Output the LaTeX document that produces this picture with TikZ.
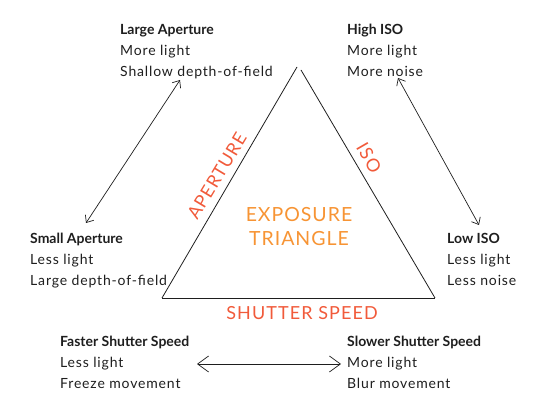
\documentclass[tikz,border=0pt]{standalone}
\usepackage{fontspec}
\setmainfont{Lato}
\newfontfamily\infofont{Lato}[LetterSpace=6]
\newfontfamily\redfont{Lato}[LetterSpace=6]
\newfontfamily\titlefont{Lato}[LetterSpace=5]
\usetikzlibrary{arrows.meta}
\definecolor{lblred}{RGB}{241,90,58}
\definecolor{expo}{RGB}{247,148,52}
\definecolor{ink}{RGB}{30,30,30}
\newcommand{\hd}[1]{{\normalfont\bfseries\fontsize{14}{21}\selectfont #1}}
\begin{document}
\begin{tikzpicture}[x=1pt,y=-1pt,
  info/.style={anchor=north west, inner sep=0pt, align=left, text=ink,
    font=\infofont\fontsize{14}{21}\selectfont},
  side/.style={draw=ink, line width=0.8pt},
  link/.style={draw=ink, line width=0.7pt,
    {Straight Barb[length=6pt,width=10pt]}-{Straight Barb[length=6pt,width=10pt]}},
  biglink/.style={draw=ink, line width=0.7pt,
    {Straight Barb[length=11pt,width=16pt]}-{Straight Barb[length=11pt,width=16pt]}},
  edgelbl/.style={text=lblred, inner sep=0pt, font=\redfont\fontsize{18}{18}\selectfont},
  title/.style={text=expo, inner sep=0pt, align=center, font=\titlefont\fontsize{19.5}{23.3}\selectfont}]
\useasboundingbox (0,0) rectangle (558,414);
% triangle
\coordinate (apexL) at (297,67);
\coordinate (apexR) at (301,70);
\coordinate (bl) at (162,298);
\coordinate (br) at (435,298);
\draw[side] (bl) -- (apexL);
\draw[side] (apexR) -- (br);
\draw[side] (bl) -- (br);
% edge labels
\node[edgelbl, rotate=59] (ap) at (217,176) {APERTURE};
\node[edgelbl, rotate=-60] (iso) at (369,158) {ISO};
\node[edgelbl] (sh) at (302,313) {SHUTTER SPEED};
\node[title] (et) at (299,226.4) {EXPOSURE\\TRIANGLE};
% info texts
\node[info] (la) at (120,24) {\hd{Large Aperture}\\More light\\Shallow depth-of-field};
\node[info] (hi) at (347,24) {\hd{High ISO}\\More light\\More noise};
\node[info] (sa) at (30,233) {\hd{Small Aperture}\\Less light\\Large depth-of-field};
\node[info] (lo) at (447,233) {\hd{Low ISO}\\Less light\\Less noise};
\node[info] (fs) at (60,336) {\hd{Faster Shutter Speed}\\Less light\\Freeze movement};
\node[info] (ss) at (347,336) {\hd{Slower Shutter Speed}\\More light\\Blur movement};
% arrows
\coordinate (a1) at (180,80);
\coordinate (a2) at (86,223);
\coordinate (i1) at (398,78);
\coordinate (i2) at (479,225);
\coordinate (s1) at (197,364);
\coordinate (s2) at (341,364);
\draw[link] (a1) -- (a2);
\draw[link] (i1) -- (i2);
\draw[biglink] (s1) -- (s2);
\end{tikzpicture}
\end{document}
